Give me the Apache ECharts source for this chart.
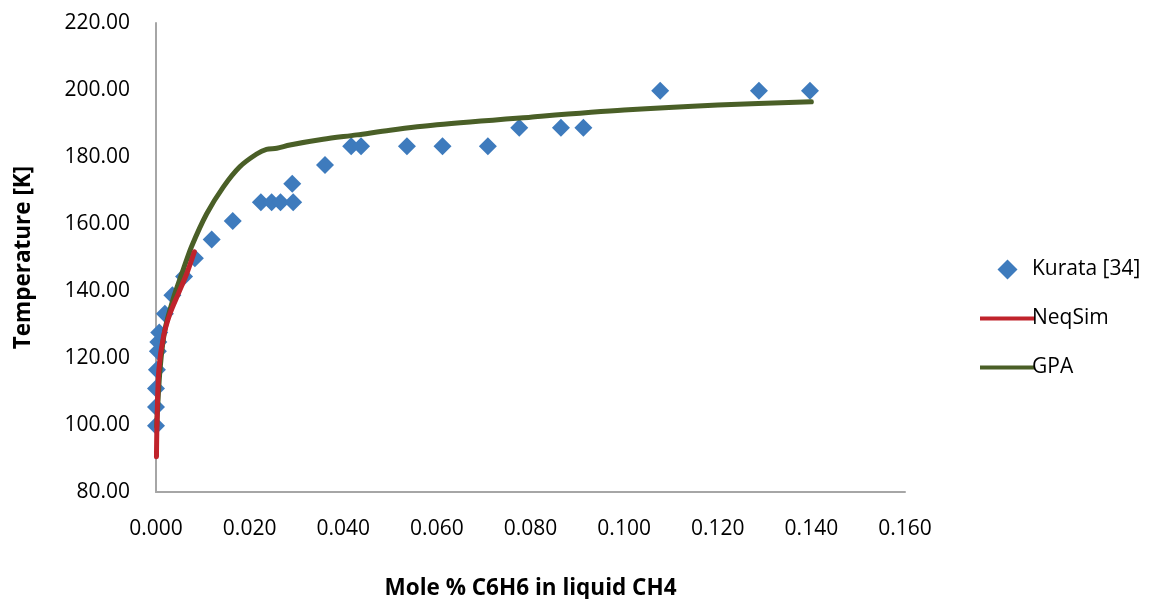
<!DOCTYPE html>
<html>
<head>
<meta charset="utf-8">
<script src="https://cdn.jsdelivr.net/npm/echarts@6/dist/echarts.min.js"></script>
<style>
  html, body { margin: 0; padding: 0; background: #ffffff; overflow: hidden; }
  #chart { width: 1152px; height: 599px; }
</style>
</head>
<body>
<div id="chart"></div>
<script>
// Solubility of benzene (C6H6) in liquid methane: measured points vs. two models

// Kurata [34] measurements: [mole % C6H6, temperature K]
const kurataX = [0.0000, 0.0000, 0.0000, 0.0002, 0.0004, 0.0005, 0.0007, 0.0019, 0.0035,
                 0.0060, 0.0083, 0.0119, 0.0164, 0.0224, 0.0247, 0.0266, 0.0293, 0.0291,
                 0.0361, 0.0417, 0.0438, 0.0536, 0.0612, 0.0709, 0.0776, 0.0865, 0.0913,
                 0.1077, 0.1288, 0.1397];
const kurataT = [99.8, 105.4, 110.9, 116.5, 122.0, 124.8, 127.6, 133.2, 138.7,
                 144.3, 149.8, 155.4, 160.9, 166.5, 166.5, 166.5, 166.5, 172.0,
                 177.6, 183.2, 183.2, 183.2, 183.2, 183.2, 188.7, 188.7, 188.7,
                 199.8, 199.8, 199.8];

// NeqSim model curve
const neqsimX = [0.00010, 0.00020, 0.00060, 0.00160, 0.00300, 0.00480, 0.00660, 0.00820];
const neqsimT = [90.5, 99.5, 116.4, 126.4, 133.3, 139.3, 145.3, 151.7];

// GPA model curve
const gpaX = [0.00015, 0.00085, 0.0019, 0.0037, 0.0058, 0.0076, 0.0108, 0.0144, 0.0179,
              0.0215, 0.0236, 0.0258, 0.0286, 0.0357, 0.0429, 0.0500, 0.0600, 0.0800,
              0.1000, 0.1200, 0.1400];
const gpaT = [99.5, 116.4, 128.4, 137.8, 146.3, 153.3, 163.0, 171.1, 177.1,
              180.9, 182.3, 182.6, 183.6, 185.3, 186.6, 188.0, 189.6, 191.9,
              194.0, 195.5, 196.5];

// Axis ticks
const xTicks = [0, 0.02, 0.04, 0.06, 0.08, 0.10, 0.12, 0.14, 0.16];
const yTicks = [80, 100, 120, 140, 160, 180, 200, 220];

const zip = (xs, ys) => xs.map((x, i) => [x, ys[i]]);

const FONT = '"Open Sans", "Liberation Sans", sans-serif';
const axisGrey = '#a6a6a6';
const blue = '#3e7bbd';
const red = '#c0232b';
const green = '#4a5f27';
const lineIcon = 'path://M0,0 L55,0 L55,4 L0,4 Z';
const diamondIcon = 'path://M9,0 L18,9 L9,18 L0,9 Z';

const chart = echarts.init(document.getElementById('chart'), null, { renderer: 'canvas' });

chart.setOption({
  animation: false,
  backgroundColor: '#ffffff',
  textStyle: { fontFamily: FONT },
  grid: {
    left: 156, right: 247, top: 23, bottom: 107,
    containLabel: false,
    outerBoundsMode: 'none'
  },
  xAxis: {
    type: 'value',
    min: xTicks[0],
    max: xTicks[xTicks.length - 1],
    interval: 0.02,
    name: 'Mole % C6H6 in liquid CH4',
    nameLocation: 'middle',
    nameGap: 85,
    nameTextStyle: { fontFamily: FONT, fontWeight: 'bold', fontSize: 22.5, color: '#000' },
    axisLine: { show: true, lineStyle: { color: axisGrey, width: 2 } },
    axisTick: { show: false },
    splitLine: { show: false },
    axisLabel: {
      margin: 27,
      fontFamily: FONT, fontSize: 21, color: '#000',
      formatter: v => v.toFixed(3)
    }
  },
  yAxis: {
    type: 'value',
    min: yTicks[0],
    max: yTicks[yTicks.length - 1],
    interval: 20,
    name: 'Temperature [K]',
    nameLocation: 'middle',
    nameGap: 121,
    nameTextStyle: { fontFamily: FONT, fontWeight: 'bold', fontSize: 22.5, color: '#000' },
    axisLine: { show: true, lineStyle: { color: axisGrey, width: 2 } },
    axisTick: { show: false },
    splitLine: { show: false },
    axisLabel: {
      margin: 26,
      fontFamily: FONT, fontSize: 21, color: '#000',
      formatter: v => v.toFixed(2)
    }
  },
  legend: {
    orient: 'vertical',
    left: 975,
    top: 254,
    itemWidth: 55,
    itemHeight: 20,
    itemGap: 28,
    symbolKeepAspect: true,
    textStyle: { fontFamily: FONT, fontSize: 21, color: '#000', padding: [0, 0, 0, -8] },
    data: [
      { name: 'Kurata [34]', icon: diamondIcon, itemStyle: { color: blue } },
      { name: 'NeqSim', icon: lineIcon, itemStyle: { color: red } },
      { name: 'GPA', icon: lineIcon, itemStyle: { color: green } }
    ]
  },
  series: [
    {
      name: 'Kurata [34]',
      type: 'scatter',
      symbol: 'diamond',
      symbolSize: 18,
      itemStyle: { color: blue, opacity: 1 },
      data: zip(kurataX, kurataT),
      z: 3
    },
    {
      name: 'GPA',
      type: 'line',
      showSymbol: false,
      symbol: 'none',
      smooth: 0.3,
      lineStyle: { color: green, width: 5, cap: 'round' },
      itemStyle: { color: green },
      data: zip(gpaX, gpaT),
      z: 4
    },
    {
      name: 'NeqSim',
      type: 'line',
      showSymbol: false,
      symbol: 'none',
      smooth: 0.3,
      lineStyle: { color: red, width: 5, cap: 'round' },
      itemStyle: { color: red },
      data: zip(neqsimX, neqsimT),
      z: 5
    }
  ]
});
</script>
</body>
</html>
